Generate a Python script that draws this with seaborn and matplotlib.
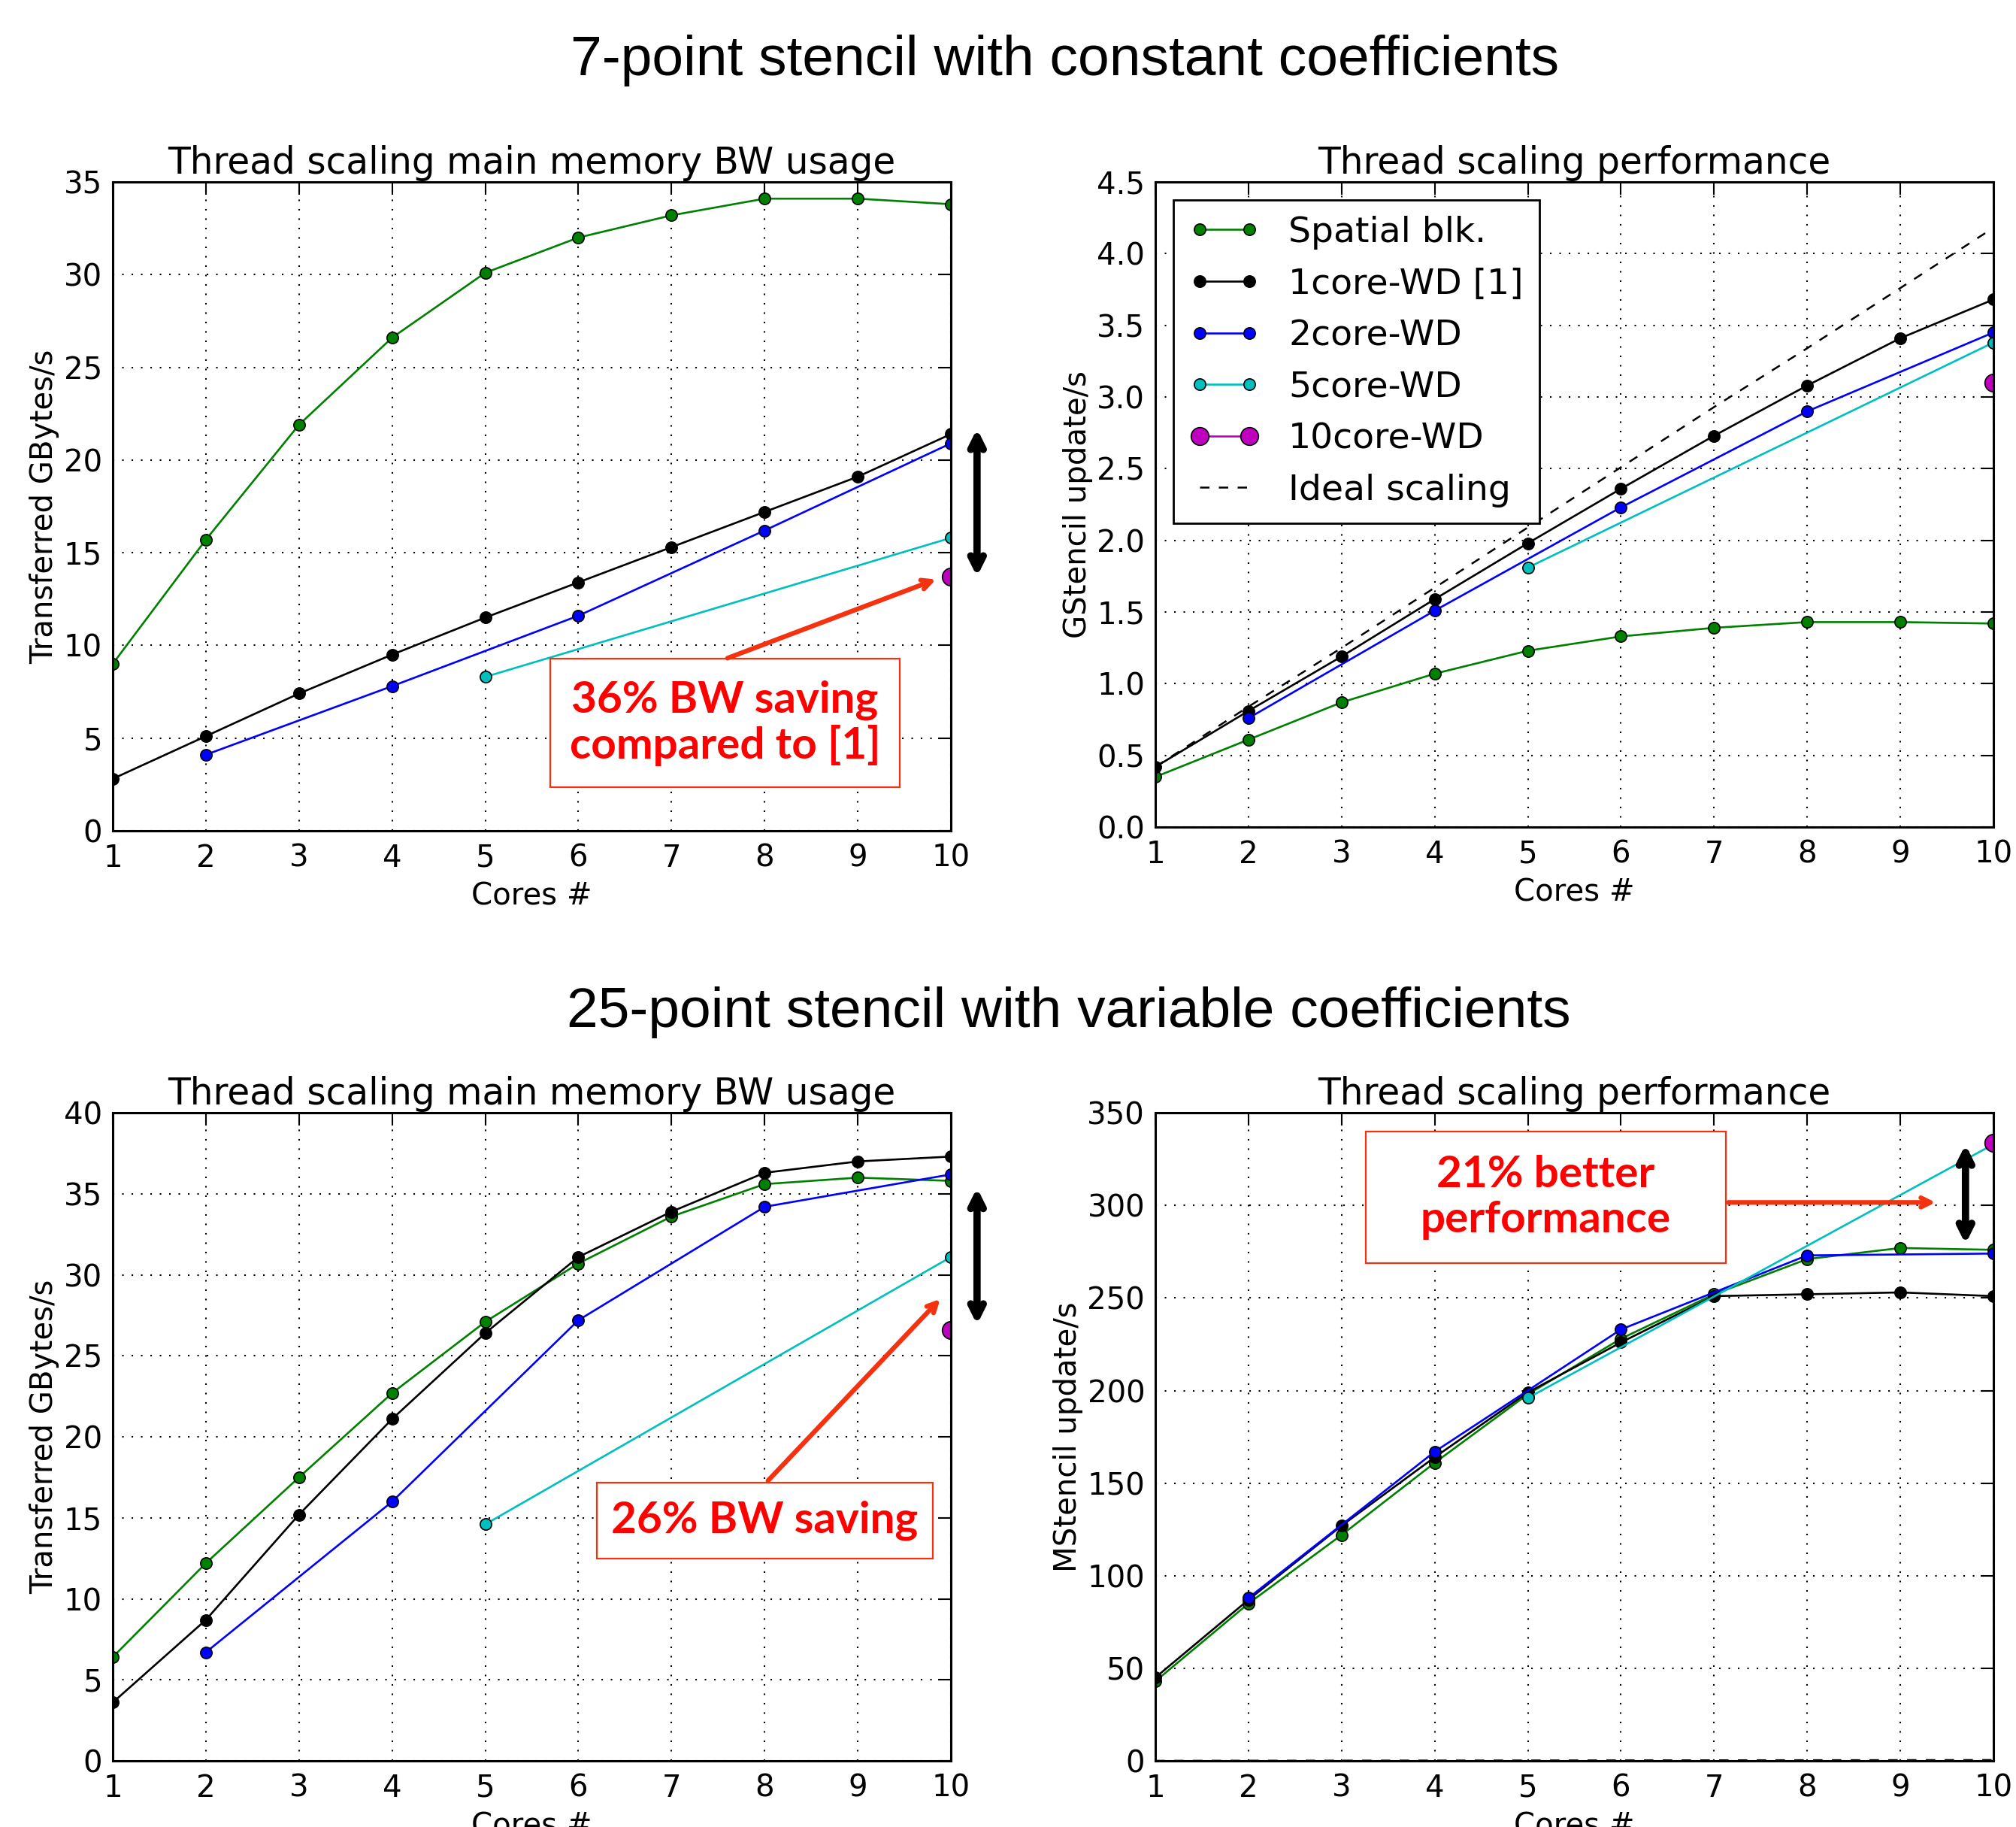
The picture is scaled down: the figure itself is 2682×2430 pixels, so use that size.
import numpy as np
import pandas as pd
import matplotlib.pyplot as plt
from matplotlib.patches import Rectangle
import seaborn as sns

# x values for each variant
cores = [1, 2, 3, 4, 5, 6, 7, 8, 9, 10]
cores_2 = [2, 4, 6, 8, 10]
cores_5 = [5, 10]
cores_10 = [10]

# 7-point stencil, constant coefficients: main memory BW (GBytes/s)
bw7_spatial = [9.0, 15.7, 21.9, 26.6, 30.1, 32.0, 33.2, 34.1, 34.1, 33.8]
bw7_1core = [2.8, 5.1, 7.4, 9.5, 11.5, 13.4, 15.3, 17.2, 19.1, 21.4]
bw7_2core = [4.1, 7.8, 11.6, 16.2, 20.9]
bw7_5core = [8.3, 15.8]
bw7_10core = [13.7]

# 7-point stencil: performance (GStencil update/s)
pf7_spatial = [0.35, 0.61, 0.87, 1.07, 1.23, 1.33, 1.39, 1.43, 1.43, 1.42]
pf7_1core = [0.42, 0.81, 1.19, 1.59, 1.98, 2.36, 2.73, 3.08, 3.41, 3.68]
pf7_2core = [0.76, 1.51, 2.23, 2.90, 3.45]
pf7_5core = [1.81, 3.38]
pf7_10core = [3.10]
pf7_ideal = [0.42, 0.84, 1.25, 1.67, 2.09, 2.51, 2.93, 3.34, 3.76, 4.18]

# 25-point stencil, variable coefficients: main memory BW (GBytes/s)
bw25_spatial = [6.4, 12.2, 17.5, 22.7, 27.1, 30.7, 33.6, 35.6, 36.0, 35.8]
bw25_1core = [3.6, 8.7, 15.2, 21.1, 26.4, 31.1, 33.9, 36.3, 37.0, 37.3]
bw25_2core = [6.7, 16.0, 27.2, 34.2, 36.2]
bw25_5core = [14.6, 31.1]
bw25_10core = [26.6]

# 25-point stencil: performance (MStencil update/s)
pf25_spatial = [43, 85, 122, 161, 198, 228, 252, 271, 277, 276]
pf25_1core = [45, 87, 127, 164, 199, 226, 251, 252, 253, 251]
pf25_2core = [88, 167, 233, 273, 274]
pf25_5core = [196, 333]
pf25_10core = [334]
pf25_ideal = [0.04, 0.09, 0.13, 0.18, 0.22, 0.27, 0.31, 0.36, 0.40, 0.45]

labels = ['Spatial blk.', '1core-WD [1]', '2core-WD', '5core-WD', '10core-WD']
colors = ['g', 'k', 'b', 'c', 'm']
msizes = [11, 11, 11, 11, 17]

sns.set_style('white')
plt.rcParams.update({
    'font.family': ['DejaVu Sans'],
    'text.color': 'k', 'axes.labelcolor': 'k',
    'xtick.color': 'k', 'ytick.color': 'k',
    'xtick.direction': 'in', 'ytick.direction': 'in',
    'xtick.top': True, 'ytick.right': True,
    'xtick.major.size': 12, 'ytick.major.size': 12,
    'xtick.major.width': 1.5, 'ytick.major.width': 1.5,
    'xtick.major.pad': 12, 'ytick.major.pad': 10,
    'axes.edgecolor': 'k', 'axes.linewidth': 2.2,
})

fig = plt.figure(figsize=(26.82, 24.30), dpi=100)
ax_tl = fig.add_axes([0.0559, 0.5453, 0.4158, 0.3551])
ax_tr = fig.add_axes([0.5731, 0.5473, 0.4157, 0.3531])
ax_bl = fig.add_axes([0.0559, 0.0362, 0.4158, 0.3547])
ax_br = fig.add_axes([0.5731, 0.0362, 0.4157, 0.3547])


def draw_panel(ax, series, ideal=None):
    xs_all = [cores, cores, cores_2, cores_5, cores_10]
    for xs, ys, lab, col, ms in zip(xs_all, series, labels, colors, msizes):
        sns.lineplot(x=xs, y=ys, ax=ax, color=col, marker='o', markersize=ms,
                     markeredgecolor='k', markeredgewidth=1.2, linewidth=1.9,
                     label=lab, legend=False)
    if ideal is not None:
        sns.lineplot(x=cores, y=ideal, ax=ax, color='k', linestyle=(0, (5, 5)),
                     linewidth=1.8, label='Ideal scaling', legend=False)
    ax.set_xlim(1, 10)
    ax.set_xticks(cores)
    ax.grid(True, color='k', linestyle=(0, (1, 5)), linewidth=1.5)
    ax.tick_params(labelsize=29)
    ax.set_xlabel('Cores #', fontsize=29, labelpad=8)


draw_panel(ax_tl, [bw7_spatial, bw7_1core, bw7_2core, bw7_5core, bw7_10core])
ax_tl.set_ylim(0, 35)
ax_tl.set_yticks(np.arange(0, 36, 5))
ax_tl.set_ylabel('Transferred GBytes/s', fontsize=29)
ax_tl.set_title('Thread scaling main memory BW usage', fontsize=35, pad=8)

draw_panel(ax_tr, [pf7_spatial, pf7_1core, pf7_2core, pf7_5core, pf7_10core], pf7_ideal)
ax_tr.set_ylim(0, 4.5)
ax_tr.set_yticks(np.arange(0, 4.6, 0.5))
ax_tr.set_yticklabels([f'{v:.1f}' for v in np.arange(0, 4.6, 0.5)])
ax_tr.set_ylabel('GStencil update/s', fontsize=29)
ax_tr.set_title('Thread scaling performance', fontsize=35, pad=8)
leg = ax_tr.legend(loc='upper left', fontsize=34, numpoints=2, fancybox=False,
                   framealpha=1, edgecolor='k', handlelength=2.0,
                   borderaxespad=0.5, labelspacing=0.5, borderpad=0.45)
leg.get_frame().set_linewidth(2)

draw_panel(ax_bl, [bw25_spatial, bw25_1core, bw25_2core, bw25_5core, bw25_10core])
ax_bl.set_ylim(0, 40)
ax_bl.set_yticks(np.arange(0, 41, 5))
ax_bl.set_ylabel('Transferred GBytes/s', fontsize=29)
ax_bl.set_title('Thread scaling main memory BW usage', fontsize=35, pad=8)

draw_panel(ax_br, [pf25_spatial, pf25_1core, pf25_2core, pf25_5core, pf25_10core], pf25_ideal)
ax_br.set_ylim(0, 350)
ax_br.set_yticks(np.arange(0, 351, 50))
ax_br.set_ylabel('MStencil update/s', fontsize=29)
ax_br.set_title('Thread scaling performance', fontsize=35, pad=8)

# figure headings
fig.text(0.528, 0.967, '7-point stencil with constant coefficients',
         family='Liberation Sans', fontsize=54, ha='center', va='center', color='k')
fig.text(0.530, 0.446, '25-point stencil with variable coefficients',
         family='Liberation Sans', fontsize=54, ha='center', va='center', color='k')

red = '#ff0000'
arrow_red = '#f5320f'
note_font = dict(family='Lato', weight='bold', color=red, fontsize=42,
                 ha='center', va='center', linespacing=1.15)


def note_box(ax, x0, y0, x1, y1, text):
    ax.add_patch(Rectangle((x0, y0), x1 - x0, y1 - y0, transform=ax.transAxes,
                           facecolor='white', edgecolor=arrow_red, linewidth=1.6,
                           zorder=5))
    ax.text((x0 + x1) / 2, (y0 + y1) / 2, text, transform=ax.transAxes,
            zorder=6, **note_font)


def red_arrow(ax, tail, head):
    ax.annotate('', xy=head, xytext=tail,
                arrowprops=dict(arrowstyle='->,head_length=0.9,head_width=0.45',
                                color=arrow_red, lw=4.5), zorder=6)


def double_arrow(ax, x, y0, y1):
    ax.annotate('', xy=(x, y0), xytext=(x, y1), annotation_clip=False,
                arrowprops=dict(arrowstyle='<->,head_length=1.2,head_width=0.6',
                                color='k', lw=7), zorder=7)


note_box(ax_tl, 0.522, 0.067, 0.939, 0.265, '36% BW saving\ncompared to [1]')
red_arrow(ax_tl, (7.58, 9.27), (9.86, 13.6))
double_arrow(ax_tl, 10.28, 21.8, 13.6)

note_box(ax_bl, 0.578, 0.312, 0.978, 0.429, '26% BW saving')
red_arrow(ax_bl, (8.02, 17.2), (9.9, 28.6))
double_arrow(ax_bl, 10.28, 35.5, 26.8)

note_box(ax_br, 0.251, 0.768, 0.681, 0.971, '21% better\nperformance')
red_arrow(ax_br, (7.13, 301.6), (9.4, 301.6))
double_arrow(ax_br, 9.70, 334, 278)

fig.savefig('out.png', dpi=100)
